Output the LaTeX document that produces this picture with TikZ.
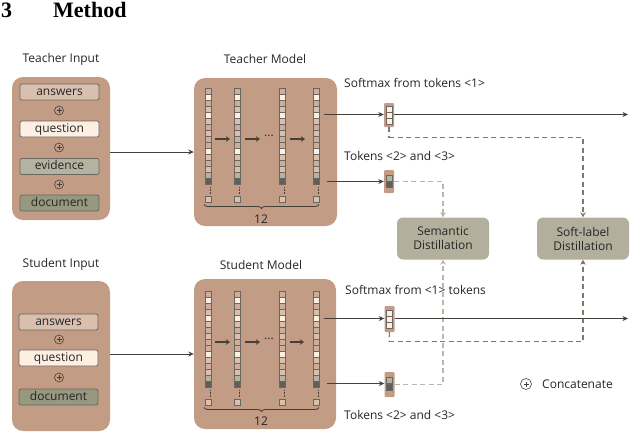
\documentclass[tikz,border=0pt]{standalone}
\usepackage{fontspec}
\setmainfont{Open Sans}
\newfontfamily\headfont{Liberation Serif}
\usetikzlibrary{arrows.meta,decorations.pathreplacing}

\definecolor{panel}{HTML}{C39C85}
\definecolor{answersfill}{HTML}{D9BFAE}
\definecolor{questionfill}{HTML}{FDEFE2}
\definecolor{evidencefill}{HTML}{B3B4A0}
\definecolor{documentfill}{HTML}{979880}
\definecolor{distfill}{HTML}{B2B09D}
\definecolor{darkcell}{HTML}{5E5F58}
\definecolor{midcell}{HTML}{CDAE9A}
\definecolor{ink}{HTML}{45403A}
\definecolor{softdash}{HTML}{7A7A6F}
\definecolor{lightdash}{HTML}{B8B7A9}

\tikzset{
	every node/.style={font=\fontsize{12}{14}\selectfont, text=black!85},
	panelbox/.style={fill=panel, rounded corners=11pt, inner sep=0pt},
	inputrow/.style={draw=ink!80, line width=0.7pt, rounded corners=2pt, minimum width=79pt, minimum height=16pt, inner sep=0pt, text height=8.5pt, text depth=2.5pt},
	concat/.style={circle, draw=ink, line width=0.6pt, minimum size=9pt, inner sep=0pt,
		path picture={\draw[ink, line width=0.6pt] (path picture bounding box.center) +(-2.5pt,0) -- +(2.5pt,0) +(0,-2.5pt) -- +(0,2.5pt);}},
	cell/.style={draw=ink!80, line width=0.5pt, minimum size=6pt, inner sep=0pt},
	tokbox/.style={fill=panel, rounded corners=1pt, minimum width=10pt, inner sep=0pt},
	distbox/.style={fill=distfill, rounded corners=6pt, minimum width=92pt, minimum height=42pt, inner sep=0pt, align=center},
	arr/.style={draw=ink, line width=1pt, -{Stealth[length=5.5pt,width=5pt]}},
	bigarr/.style={draw=ink, line width=1.7pt, -{Stealth[length=4pt,width=5.5pt]}},
	softline/.style={draw=softdash, line width=1.1pt, dash pattern=on 5pt off 3.5pt},
	lightline/.style={draw=lightdash, line width=1.1pt, dash pattern=on 5pt off 3.5pt},
	softarr/.style={-{Stealth[length=5pt,width=5.5pt]}},
	label/.style={anchor=west, inner sep=0pt},
	headtext/.style={anchor=west, inner sep=0pt, font=\headfont\bfseries\fontsize{22}{24}\selectfont, text=black}
}

% one column of token cells, name / x / top y
\newcommand{\tokencol}[3]{
	\foreach \col [count=\i] in {midcell,questionfill,midcell,answersfill,questionfill,answersfill,midcell,answersfill,midcell,midcell,questionfill,answersfill,midcell,answersfill,evidencefill,darkcell}{
		\node[cell, fill=\col] (#1-\i) at ({#2},{#3+6*\i-3}) {};
	}
	\node[cell, fill=answersfill] (#1-last) at ({#2},{#3+111}) {};
	\draw[ink, line width=0.5pt, densely dotted, shorten <=3pt, shorten >=2pt] ([xshift=2pt]#1-16.south) -- ([xshift=2pt]#1-last.north);
}

\begin{document}
\begin{tikzpicture}[x=1pt, y=-1pt]
	\useasboundingbox (0,0) rectangle (640,437);

	\node[headtext] (secnum) at (1,10) {3};
	\node[headtext] (sectitle) at (53,10) {Method};

	% panels
	\node[panelbox, minimum width=98pt, minimum height=143pt] (tinput) at (61,148.5) {};
	\node[panelbox, minimum width=143pt, minimum height=148pt] (tmodel) at (265.5,152) {};
	\node[panelbox, minimum width=98pt, minimum height=150pt] (sinput) at (61,356) {};
	\node[panelbox, minimum width=142pt, minimum height=150pt] (smodel) at (265,354) {};

	\node (ttitle) at (61,59) {Teacher Input};
	\node (mtitle) at (265,59) {Teacher Model};
	\node (stitle) at (61,264.5) {Student Input};
	\node (ntitle) at (261,264.5) {Student Model};

	% teacher input
	\node[inputrow, fill=answersfill] (ta) at (59.5,92) {answers};
	\node[inputrow, fill=questionfill] (tq) at (59.5,129) {question};
	\node[inputrow, fill=evidencefill] (te) at (59.5,166.5) {evidence};
	\node[inputrow, fill=documentfill] (td) at (59.5,203) {document};
	\node[concat] (tp1) at (59,110.5) {};
	\node[concat] (tp2) at (59,147.5) {};
	\node[concat] (tp3) at (59,184.5) {};

	% student input
	\node[inputrow, fill=answersfill] (sa) at (58.5,322) {answers};
	\node[inputrow, fill=questionfill] (sq) at (58.5,358) {question};
	\node[inputrow, fill=documentfill] (sd) at (58.5,397) {document};
	\node[concat] (sp1) at (59,339.5) {};
	\node[concat] (sp2) at (59,377.5) {};

	\tokencol{ta1}{208}{88}
	\tokencol{ta2}{237}{88}
	\tokencol{ta3}{282}{88}
	\tokencol{ta4}{316}{88}
	\tokencol{st1}{208}{291}
	\tokencol{st2}{237}{291}
	\tokencol{st3}{282}{291}
	\tokencol{st4}{316}{291}

	% arrows between columns
	\coordinate (tb1) at (215,139);
	\coordinate (tb2) at (230,139);
	\coordinate (tb3) at (245,139);
	\coordinate (tb4) at (260,139);
	\coordinate (tb5) at (290,139);
	\coordinate (tb6) at (305,139);
	\coordinate (sb1) at (215,342);
	\coordinate (sb2) at (230,342);
	\coordinate (sb3) at (245,342);
	\coordinate (sb4) at (260,342);
	\coordinate (sb5) at (290,342);
	\coordinate (sb6) at (304,342);
	\draw[bigarr] (tb1) -- (tb2);
	\draw[bigarr] (tb3) -- (tb4);
	\draw[bigarr] (tb5) -- (tb6);
	\draw[bigarr] (sb1) -- (sb2);
	\draw[bigarr] (sb3) -- (sb4);
	\draw[bigarr] (sb5) -- (sb6);
	\node (tdots) at (269,136) {...};
	\node (sdots) at (269,339) {...};

	% braces
	\draw[ink, line width=0.9pt, decorate, decoration={brace, mirror, amplitude=4pt}] (204,204.5) -- (319,204.5);
	\draw[ink, line width=0.9pt, decorate, decoration={brace, mirror, amplitude=4pt}] (204,407.5) -- (319,407.5);
	\node (tcount) at (261,219.5) {12};
	\node (scount) at (261,421.5) {12};

	% distillation
	\node[distbox] (sem) at (443,238.5) {Semantic\\Distillation};
	\node[distbox] (soft) at (583,238.5) {Soft-label\\Distillation};

	% token boxes
	\node[tokbox, minimum height=24pt] (tok1) at (389,115) {};
	\node[tokbox, minimum height=23pt] (tok2) at (389,181.5) {};
	\node[tokbox, minimum height=26pt] (tok3) at (389.5,319) {};
	\node[tokbox, minimum height=25pt] (tok4) at (389.5,384.5) {};

	% dashed connectors
	\coordinate (t1a) at (389,137.5);
	\coordinate (t2a) at (443,181.5);
	\coordinate (s1a) at (389,341.5);
	\coordinate (s2a) at (443,384.5);
	\draw[softline] (tok1.south) -- (t1a);
	\draw[softline, softarr] (t1a) -| (soft.north);
	\draw[lightline, softarr] (tok2.east) -- (t2a) -- (sem.north);
	\draw[lightline, softarr] (tok4.east) -- (s2a) -- (sem.south);
	\draw[softline] (tok3.south) -- (s1a);
	\draw[softline, softarr] (s1a) -| (soft.south);

	\node[cell, fill=questionfill] (c1a) at (389,109) {};
	\node[cell, fill=questionfill] (c1b) at (389,115) {};
	\node[cell, fill=questionfill] (c1c) at (389,121) {};
	\node[cell, fill=evidencefill] (c2a) at (389,178) {};
	\node[cell, fill=darkcell] (c2b) at (389,184.5) {};
	\node[cell, fill=questionfill] (c3a) at (389,313) {};
	\node[cell, fill=questionfill] (c3b) at (389,319) {};
	\node[cell, fill=questionfill] (c3c) at (389,325) {};
	\node[cell, fill=evidencefill] (c4a) at (389,380.5) {};
	\node[cell, fill=darkcell] (c4b) at (389,387) {};

	% solid arrows
	\coordinate (tout1) at (324,114.5);
	\coordinate (tout2) at (327,181.5);
	\coordinate (sout1) at (324,318.5);
	\coordinate (sout2) at (327,383.5);
	\coordinate (tend) at (628,114.5);
	\coordinate (send) at (628,318.5);
	\draw[arr] (tinput.east |- tmodel.west) -- (tmodel.west);
	\draw[arr] (sinput.east |- smodel.west) -- (smodel.west);
	\draw[arr] (tout1) -- (tout1 -| tok1.west);
	\draw[arr] (tout2) -- (tok2.west);
	\draw[arr] (sout1) -- (sout1 -| tok3.west);
	\draw[arr] (sout2) -- (sout2 -| tok4.west);
	\draw[arr, line width=1.2pt] (tend -| tok1.east) -- (tend);
	\draw[arr, line width=1.2pt] (send -| tok3.east) -- (send);

	% labels
	\node[label] (lab1) at (344,82.5) {Softmax from tokens <1>};
	\node[label] (lab2) at (344,155.5) {Tokens <2> and <3>};
	\node[label] (lab3) at (345,289.5) {Softmax from <1> tokens};
	\node[label] (lab4) at (344,414.5) {Tokens <2> and <3>};

	\node[concat, minimum size=11pt] (legplus) at (526,384) {};
	\node[label] (legend) at (542,384.5) {Concatenate};
\end{tikzpicture}
\end{document}
